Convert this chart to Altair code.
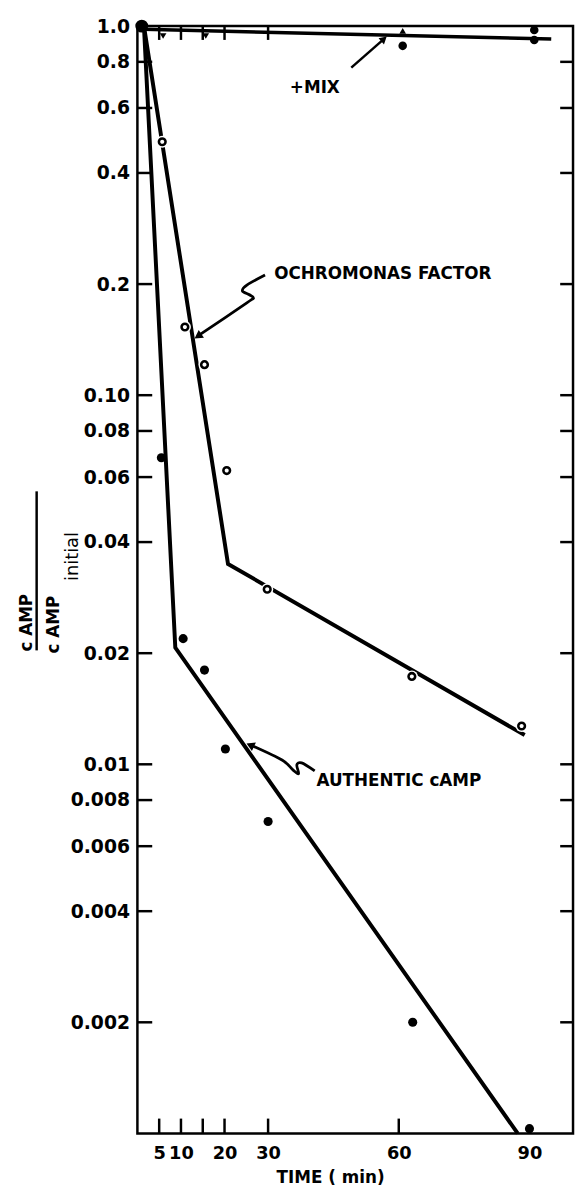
import altair as alt
import pandas as pd

# ---------------- data ----------------
# common starting point (all series at t≈0 are 1.0)
origin_time = [1.0]
origin_value = [1.0]

# Authentic cAMP (filled circles)
auth_time = [5.5, 10.5, 15.4, 20.2, 30.0, 63.2, 90.0]
auth_value = [0.0677, 0.0219, 0.0180, 0.0110, 0.0070, 0.0020, 0.00103]
auth_fit_time = [1.5, 8.7, 87.3]
auth_fit_value = [1.0, 0.0207, 0.001]

# Ochromonas factor (open circles)
ochro_time = [5.7, 10.9, 15.4, 20.5, 29.8, 63.0, 88.2]
ochro_value = [0.486, 0.153, 0.121, 0.0625, 0.0298, 0.0173, 0.0127]
ochro_fit_time = [1.5, 20.8, 88.9]
ochro_fit_value = [1.0, 0.0349, 0.0120]

# + MIX
mix_fit_time = [1.5, 95.0]
mix_fit_value = [0.98, 0.923]
mix_down_time = [5.9, 15.7]
mix_down_value = [0.94, 0.94]
mix_up_time = [60.9]
mix_up_value = [0.970]
mix_dot_time = [60.9, 91.1, 91.1]
mix_dot_value = [0.884, 0.976, 0.917]

# axes
y_ticks = [0.002, 0.004, 0.006, 0.008, 0.01, 0.02, 0.04, 0.06, 0.08, 0.1,
           0.2, 0.4, 0.6, 0.8, 1.0]
y_labels = ["0.002", "0.004", "0.006", "0.008", "0.01", "0.02", "0.04",
            "0.06", "0.08", "0.10", "0.2", "0.4", "0.6", "0.8", "1.0"]
x_ticks = [5, 10, 15, 20, 30, 60]
x_label_values = [5, 10, 20, 30, 60, 90]

# annotations (data coordinates)
ann_text = ["+MIX", "OCHROMONAS FACTOR", "AUTHENTIC cAMP"]
ann_time = [35.0, 31.4, 41.1]
ann_value = [0.678, 0.213, 0.00903]

mix_arrow_time = [49.1, 56.1]
mix_arrow_value = [0.772, 0.912]
ochro_arrow_time = [29.3, 25.2, 24.1, 25.7, 26.6, 25.2, 14.5]
ochro_arrow_value = [0.2117, 0.1990, 0.1917, 0.1871, 0.1837, 0.1781, 0.1463]
auth_arrow_time = [40.7, 37.7, 36.6, 37.0, 35.7, 33.2, 26.6]
auth_arrow_value = [0.00960, 0.01009, 0.00996, 0.00943, 0.00966, 0.01027, 0.01120]

FONT = "DejaVu Sans"
W, H = 441, 1121

xscale = alt.Scale(domain=[0, 100], nice=False, zero=False)
yscale = alt.Scale(type="log", domain=[0.001, 1.0], nice=False)

label_expr = "[" + ",".join("'%s'" % s for s in y_labels) + "][indexof([" + \
    ",".join(repr(v) for v in y_ticks) + "], datum.value)]"

xaxis = alt.Axis(values=x_label_values, ticks=False, domain=False, grid=False,
                 labelFont=FONT, labelFontSize=18, labelFontWeight="bold",
                 labelColor="black", labelPadding=11, labelOverlap=False,
                 labelFlush=False, title="TIME ( min)", titleFont=FONT,
                 titleFontSize=17, titleFontWeight="bold", titleColor="black",
                 titleX=195, titlePadding=8)
yaxis = alt.Axis(values=y_ticks, labelExpr=label_expr, ticks=False, domain=False,
                 grid=False, labelFont=FONT, labelFontSize=19,
                 labelFontWeight="bold", labelColor="black", labelPadding=8,
                 labelOverlap=False, labelFlush=False, title=None)


def X(field="t"):
    return alt.X(field, type="quantitative", scale=xscale, axis=xaxis)


def Y(field="v"):
    return alt.Y(field, type="quantitative", scale=yscale, axis=yaxis)


def df(t, v):
    return pd.DataFrame({"t": t, "v": v, "o": list(range(len(t)))})


# fitted lines
auth_line = alt.Chart(df(auth_fit_time, auth_fit_value)).mark_line(
    color="black", strokeWidth=4).encode(x=X(), y=Y(), order="o:Q")
ochro_line = alt.Chart(df(ochro_fit_time, ochro_fit_value)).mark_line(
    color="black", strokeWidth=4).encode(x=X(), y=Y(), order="o:Q")
mix_line = alt.Chart(df(mix_fit_time, mix_fit_value)).mark_line(
    color="black", strokeWidth=3.5).encode(x=X(), y=Y(), order="o:Q")

# ticks inside the frame
ytk = pd.DataFrame({"v": y_ticks[:-1]})
xtk = pd.DataFrame({"t": x_ticks})
left_ticks = alt.Chart(ytk).mark_rule(color="black", strokeWidth=2.5).encode(
    y=Y(), x=alt.value(0), x2=alt.value(15))
right_ticks = alt.Chart(ytk).mark_rule(color="black", strokeWidth=2.5).encode(
    y=Y(), x=alt.value(W - 13), x2=alt.value(W))
bottom_ticks = alt.Chart(xtk).mark_rule(color="black", strokeWidth=2.5).encode(
    x=X(), y=alt.value(H - 15), y2=alt.value(H))
top_ticks = alt.Chart(xtk[xtk.t <= 30]).mark_rule(color="black", strokeWidth=2.5).encode(
    x=X(), y=alt.value(0), y2=alt.value(14))

# points
ochro_halo = alt.Chart(df(ochro_time, ochro_value)).mark_point(
    shape="circle", filled=True, color="white", opacity=1, size=150).encode(x=X(), y=Y())
ochro_pts = alt.Chart(df(ochro_time, ochro_value)).mark_point(
    shape="circle", filled=True, fill="white", stroke="black", strokeWidth=2.6,
    opacity=1, fillOpacity=1, size=45).encode(x=X(), y=Y())
auth_pts = alt.Chart(df(auth_time, auth_value)).mark_point(
    shape="circle", filled=True, color="black", opacity=1, size=85).encode(x=X(), y=Y())
origin_pt = alt.Chart(df(origin_time, origin_value)).mark_point(
    shape="circle", filled=True, color="black", opacity=1, size=170).encode(x=X(), y=Y())
mix_down = alt.Chart(df(mix_down_time, mix_down_value)).mark_point(
    shape="triangle-down", filled=True, color="black", opacity=1, size=45).encode(x=X(), y=Y())
mix_up = alt.Chart(df(mix_up_time, mix_up_value)).mark_point(
    shape="triangle-up", filled=True, color="black", opacity=1, size=45).encode(x=X(), y=Y())
mix_dots = alt.Chart(df(mix_dot_time, mix_dot_value)).mark_point(
    shape="circle", filled=True, color="black", opacity=1, size=75).encode(x=X(), y=Y())

# annotations
ann = alt.Chart(pd.DataFrame({"t": ann_time, "v": ann_value, "txt": ann_text})).mark_text(
    align="left", baseline="middle", font=FONT, fontSize=17, fontWeight="bold",
    color="black").encode(x=X(), y=Y(), text="txt:N")

mix_arrow = alt.Chart(df(mix_arrow_time, mix_arrow_value)).mark_line(
    color="black", strokeWidth=2.5).encode(x=X(), y=Y(), order="o:Q")
ochro_arrow = alt.Chart(df(ochro_arrow_time, ochro_arrow_value)).mark_line(
    color="black", strokeWidth=2.8, interpolate="cardinal").encode(x=X(), y=Y(), order="o:Q")
auth_arrow = alt.Chart(df(auth_arrow_time, auth_arrow_value)).mark_line(
    color="black", strokeWidth=2.8, interpolate="cardinal").encode(x=X(), y=Y(), order="o:Q")

head_mix = alt.Chart(df([56.6], [0.923])).mark_point(
    shape="triangle-up", filled=True, color="black", opacity=1, size=70, angle=49).encode(x=X(), y=Y())
head_ochro = alt.Chart(df([13.9], [0.1445])).mark_point(
    shape="triangle-up", filled=True, color="black", opacity=1, size=90, angle=236).encode(x=X(), y=Y())
head_auth = alt.Chart(df([25.9], [0.01127])).mark_point(
    shape="triangle-up", filled=True, color="black", opacity=1, size=90, angle=295).encode(x=X(), y=Y())

# y title built as a fraction
num_txt = alt.Chart(pd.DataFrame({"s": ["c AMP"]})).mark_text(
    angle=270, align="center", baseline="middle", font=FONT, fontSize=17,
    fontWeight="bold", color="black").encode(text="s:N", x=alt.value(-112), y=alt.value(604))
den_txt = alt.Chart(pd.DataFrame({"s": ["c AMP"]})).mark_text(
    angle=270, align="center", baseline="middle", font=FONT, fontSize=17,
    fontWeight="bold", color="black").encode(text="s:N", x=alt.value(-84), y=alt.value(606))
sub_txt = alt.Chart(pd.DataFrame({"s": ["initial"]})).mark_text(
    angle=270, align="center", baseline="middle", font=FONT, fontSize=18,
    color="black").encode(text="s:N", x=alt.value(-65), y=alt.value(537))
frac_bar = alt.Chart(pd.DataFrame({"s": ["bar"]})).mark_rule(
    color="black", strokeWidth=2.5).encode(x=alt.value(-102), y=alt.value(471), y2=alt.value(632))

chart = alt.layer(
    auth_line, ochro_line, mix_line,
    left_ticks, right_ticks, bottom_ticks, top_ticks,
    ochro_halo, ochro_pts, auth_pts, origin_pt, mix_down, mix_up, mix_dots,
    mix_arrow, ochro_arrow, auth_arrow, head_mix, head_ochro, head_auth,
    ann, num_txt, den_txt, sub_txt, frac_bar,
).properties(
    width=W, height=H,
    autosize=alt.AutoSizeParams(type="none"),
    padding={"left": 131, "top": 11, "right": 2, "bottom": 52},
    background="white",
).configure_view(stroke="black", strokeWidth=2.5)

chart.save("out.html", embed_options={"renderer": "svg", "actions": False})
